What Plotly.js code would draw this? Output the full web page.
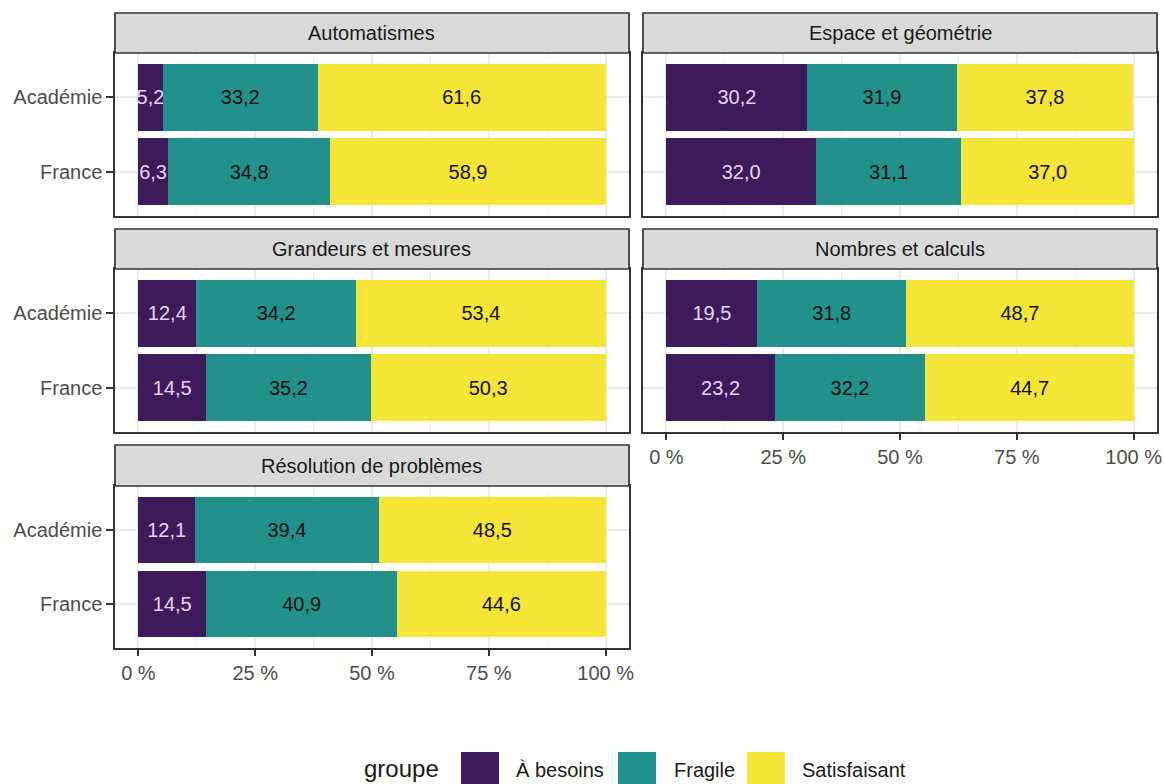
<!DOCTYPE html>
<html>
<head>
<meta charset="utf-8">
<script src="https://cdn.plot.ly/plotly-3.0.1.min.js"></script>
<style>html,body{margin:0;padding:0;background:#fff;}#chart{width:1164px;height:784px;}</style>
</head>
<body>
<div id="chart"></div>
<script>
// ---- data ----
const themes = ["Automatismes", "Espace et géométrie", "Grandeurs et mesures", "Nombres et calculs", "Résolution de problèmes"];
const rows = ["Académie", "France"];
const groupNames = ["À besoins", "Fragile", "Satisfaisant"];
const besoinsAcademie = [5.2, 30.2, 12.4, 19.5, 12.1];
const besoinsFrance = [6.3, 32.0, 14.5, 23.2, 14.5];
const fragileAcademie = [33.2, 31.9, 34.2, 31.8, 39.4];
const fragileFrance = [34.8, 31.1, 35.2, 32.2, 40.9];
const satisfAcademie = [61.6, 37.8, 53.4, 48.7, 48.5];
const satisfFrance = [58.9, 37.0, 50.3, 44.7, 44.6];
const xTickVals = [0, 25, 50, 75, 100];
const xTickText = ["0 %", "25 %", "50 %", "75 %", "100 %"];

// ---- style ----
const W = 1164, H = 784;
const colors = ["#3d1b5b", "#23918b", "#f5e536"];
const textColors = ["#e2d6ef", "#111111", "#111111"];
const FONT = "Liberation Sans, Arial, sans-serif";
const FS = 20;
const px = v => v / W;
const py = v => 1 - v / H;

// panel geometry in pixels: [x0, x1, yTop, yBottom, stripTop]
const panels = [
  [115, 629, 53, 216, 13],
  [643, 1157, 53, 216, 13],
  [115, 629, 269, 432, 229],
  [643, 1157, 269, 432, 229],
  [115, 629, 486, 648, 445]
];
const showXLabels = [false, false, false, true, true];
const showYLabels = [true, false, true, false, true];

const series = [
  [besoinsAcademie, besoinsFrance],
  [fragileAcademie, fragileFrance],
  [satisfAcademie, satisfFrance]
];
const fmt = v => v.toFixed(1).replace('.', ',');

const traces = [];
const layout = {
  width: W, height: H,
  margin: {l: 0, r: 0, t: 0, b: 0},
  paper_bgcolor: "#ffffff",
  plot_bgcolor: "#ffffff",
  barmode: "stack",
  showlegend: false,
  font: {family: FONT, size: FS, color: "#4d4d4d"},
  shapes: [],
  annotations: []
};

panels.forEach((p, i) => {
  const n = i + 1;
  const xa = "x" + (n === 1 ? "" : n), ya = "y" + (n === 1 ? "" : n);
  groupNames.forEach((g, k) => {
    const vals = [series[k][0][i], series[k][1][i]];
    traces.push({
      type: "bar", orientation: "h",
      x: vals, y: rows, width: 0.9,
      name: g,
      marker: {color: colors[k], line: {width: 0}},
      text: vals.map(fmt),
      textposition: "inside",
      insidetextanchor: "middle",
      constraintext: "none",
      textangle: 0,
      textfont: {family: FONT, size: FS, color: textColors[k]},
      cliponaxis: false,
      hoverinfo: "skip",
      xaxis: xa, yaxis: ya
    });
  });
  const xKey = "xaxis" + (n === 1 ? "" : n), yKey = "yaxis" + (n === 1 ? "" : n);
  layout[xKey] = {
    domain: [px(p[0]), px(p[1])],
    anchor: ya,
    range: [-5, 105],
    tickmode: "array",
    tickvals: xTickVals,
    ticktext: xTickText,
    showticklabels: showXLabels[i],
    ticks: showXLabels[i] ? "outside" : "",
    ticklen: 6, tickwidth: 2, tickcolor: "#333333",
    tickfont: {family: FONT, size: FS, color: "#4d4d4d"},
    showgrid: true, gridcolor: "#ebebeb", gridwidth: 2,
    minor: {tickvals: [12.5, 37.5, 62.5, 87.5], showgrid: true, gridcolor: "#f1f1f1", gridwidth: 1},
    zeroline: false,
    showline: true, mirror: true, linecolor: "#333333", linewidth: 1.7,
    fixedrange: true
  };
  layout[yKey] = {
    domain: [py(p[3]), py(p[2])],
    anchor: xa,
    type: "category",
    categoryorder: "array",
    categoryarray: rows,
    range: [1.6, -0.6],
    showticklabels: showYLabels[i],
    ticks: showYLabels[i] ? "outside" : "",
    ticklen: 7, tickwidth: 2, tickcolor: "#333333",
    tickfont: {family: FONT, size: FS, color: "#4d4d4d"},
    showgrid: true, gridcolor: "#ebebeb", gridwidth: 2,
    zeroline: false,
    showline: true, mirror: true, linecolor: "#333333", linewidth: 1.7,
    fixedrange: true
  };
  // strip
  layout.shapes.push({
    type: "rect", xref: "paper", yref: "paper",
    x0: px(p[0]), x1: px(p[1]), y0: py(p[2]), y1: py(p[4]),
    fillcolor: "#d9d9d9", line: {color: "#333333", width: 1.7}, layer: "above"
  });
  layout.annotations.push({
    xref: "paper", yref: "paper",
    x: px((p[0] + p[1]) / 2), y: py((p[2] + p[4]) / 2),
    xanchor: "center", yanchor: "middle",
    text: themes[i], showarrow: false,
    font: {family: FONT, size: FS, color: "#1a1a1a"}
  });
});

// legend (drawn manually to match large keys)
const keyX = [461, 618, 747];
const labelX = [514, 672, 800];
groupNames.forEach((g, k) => {
  layout.shapes.push({
    type: "rect", xref: "paper", yref: "paper",
    x0: px(keyX[k]), x1: px(keyX[k] + 38), y0: py(752), y1: py(792),
    fillcolor: colors[k], line: {width: 0}
  });
  layout.annotations.push({
    xref: "paper", yref: "paper", x: px(labelX[k]), y: py(770),
    xanchor: "left", yanchor: "middle", showarrow: false,
    text: g, font: {family: FONT, size: FS, color: "#1a1a1a"}
  });
});
layout.annotations.push({
  xref: "paper", yref: "paper", x: px(441), y: py(768),
  xanchor: "right", yanchor: "middle", showarrow: false,
  text: "groupe", font: {family: FONT, size: 24, color: "#1a1a1a"}
});

Plotly.newPlot("chart", traces, layout, {staticPlot: true, displayModeBar: false});
</script>
</body>
</html>
